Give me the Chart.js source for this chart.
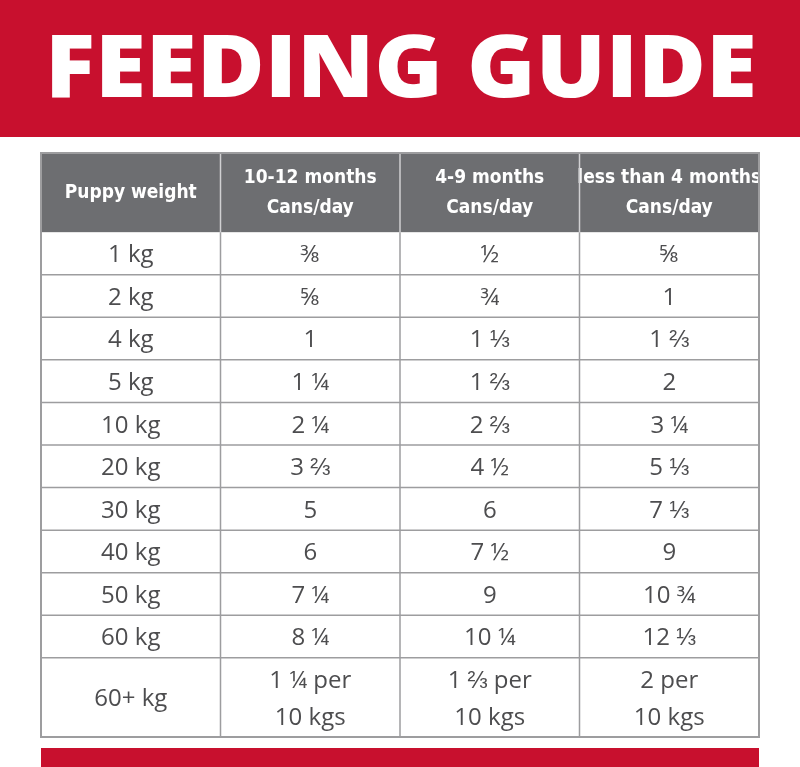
<!DOCTYPE html>
<html>
<head>
<meta charset="utf-8">
<script src="https://cdn.jsdelivr.net/npm/chart.js@4.4.0/dist/chart.umd.min.js"></script>
<style>
  html, body { margin: 0; padding: 0; background: #fff; }
  #c { display: block; }
</style>
</head>
<body>
<canvas id="c" width="800" height="767"></canvas>
<script>
const title = 'FEEDING GUIDE';
const headers = [['Puppy weight'], ['10-12 months', 'Cans/day'], ['4-9 months', 'Cans/day'], ['less than 4 months', 'Cans/day']];
const weights = ['1 kg', '2 kg', '4 kg', '5 kg', '10 kg', '20 kg', '30 kg', '40 kg', '50 kg', '60 kg', '60+ kg'];
const months10to12 = ['⅜', '⅝', '1', '1 ¼', '2 ¼', '3 ⅔', '5', '6', '7 ¼', '8 ¼', '1 ¼ per\n10 kgs'];
const months4to9 = ['½', '¾', '1 ⅓', '1 ⅔', '2 ⅔', '4 ½', '6', '7 ½', '9', '10 ¼', '1 ⅔ per\n10 kgs'];
const under4 = ['⅝', '1', '1 ⅔', '2', '3 ¼', '5 ⅓', '7 ⅓', '9', '10 ¾', '12 ⅓', '2 per\n10 kgs'];

const columns = [weights, months10to12, months4to9, under4];
const headerH = 1.86;
// row boundaries in y units (header, 10 single rows, last double row)
const rowEdges = [0, headerH];
for (let i = 1; i <= 10; i++) rowEdges.push(headerH + i);
rowEdges.push(headerH + 10 + headerH);

const tablePlugin = {
  id: 'table',
  beforeDraw(chart) {
    const ctx = chart.ctx;
    const x = chart.scales.x, y = chart.scales.y;
    ctx.save();
    ctx.fillStyle = '#fff';
    ctx.fillRect(0, 0, chart.width, chart.height);
    // banners
    ctx.fillStyle = '#c8102e';
    ctx.fillRect(0, 0, chart.width, 137);
    ctx.fillRect(41, 748, 718, 19);
    ctx.fillStyle = '#fff';
    ctx.font = '900 86px "Open Sans", Lato, sans-serif';
    ctx.textAlign = 'center';
    ctx.textBaseline = 'middle';
    const w = ctx.measureText(title).width;
    ctx.save();
    ctx.translate(401, 72);
    ctx.scale(712 / w, 1);
    ctx.fillText(title, 0, 0);
    ctx.restore();

    const L = x.getPixelForValue(0), R = x.getPixelForValue(4);
    const T = y.getPixelForValue(0), B = y.getPixelForValue(rowEdges[rowEdges.length - 1]);
    // header
    ctx.fillStyle = '#6d6e71';
    ctx.fillRect(L, T, R - L, y.getPixelForValue(headerH) - T);
    ctx.font = 'bold 19px "DejaVu Sans Condensed", "DejaVu Sans", sans-serif';
    ctx.fillStyle = '#fff';
    headers.forEach((lines, c) => {
      const cx = x.getPixelForValue(c + 0.5);
      const cy = y.getPixelForValue(headerH / 2);
      lines.forEach((t, i) => ctx.fillText(t, cx, cy + (i - (lines.length - 1) / 2) * 30));
    });
    // body text
    ctx.fillStyle = '#4d4d4f';
    ctx.font = '500 24px "Open Sans", sans-serif';
    columns.forEach((col, c) => {
      const cx = x.getPixelForValue(c + 0.5);
      col.forEach((v, r) => {
        const cy = y.getPixelForValue((rowEdges[r + 1] + rowEdges[r + 2]) / 2);
        const lines = v.split('\n');
        lines.forEach((t, i) => ctx.fillText(t, cx, cy + 2 + (i - (lines.length - 1) / 2) * 37));
      });
    });
    // grid
    ctx.strokeStyle = '#9d9d9f';
    ctx.lineWidth = 1.5;
    for (let r = 2; r < rowEdges.length - 1; r++) {
      const py = y.getPixelForValue(rowEdges[r]);
      ctx.beginPath(); ctx.moveTo(L, py); ctx.lineTo(R, py); ctx.stroke();
    }
    for (let c = 1; c < 4; c++) {
      const px = x.getPixelForValue(c);
      ctx.strokeStyle = '#9d9d9f';
      ctx.beginPath(); ctx.moveTo(px, y.getPixelForValue(headerH)); ctx.lineTo(px, B); ctx.stroke();
      ctx.strokeStyle = '#d0d0d2';
      ctx.beginPath(); ctx.moveTo(px, T); ctx.lineTo(px, y.getPixelForValue(headerH)); ctx.stroke();
    }
    ctx.strokeStyle = '#9d9d9f';
    ctx.lineWidth = 2;
    ctx.strokeRect(L, T, R - L, B - T);
    ctx.restore();
  }
};

new Chart(document.getElementById('c'), {
  type: 'scatter',
  data: { datasets: [] },
  options: {
    responsive: false,
    animation: false,
    layout: { padding: { left: 41, right: 41, top: 153, bottom: 30 } },
    plugins: { legend: { display: false }, tooltip: { enabled: false } },
    scales: {
      x: { type: 'linear', min: 0, max: 4, display: false },
      y: { type: 'linear', min: 0, max: rowEdges[rowEdges.length - 1], reverse: true, display: false }
    }
  },
  plugins: [tablePlugin]
});
</script>
</body>
</html>
